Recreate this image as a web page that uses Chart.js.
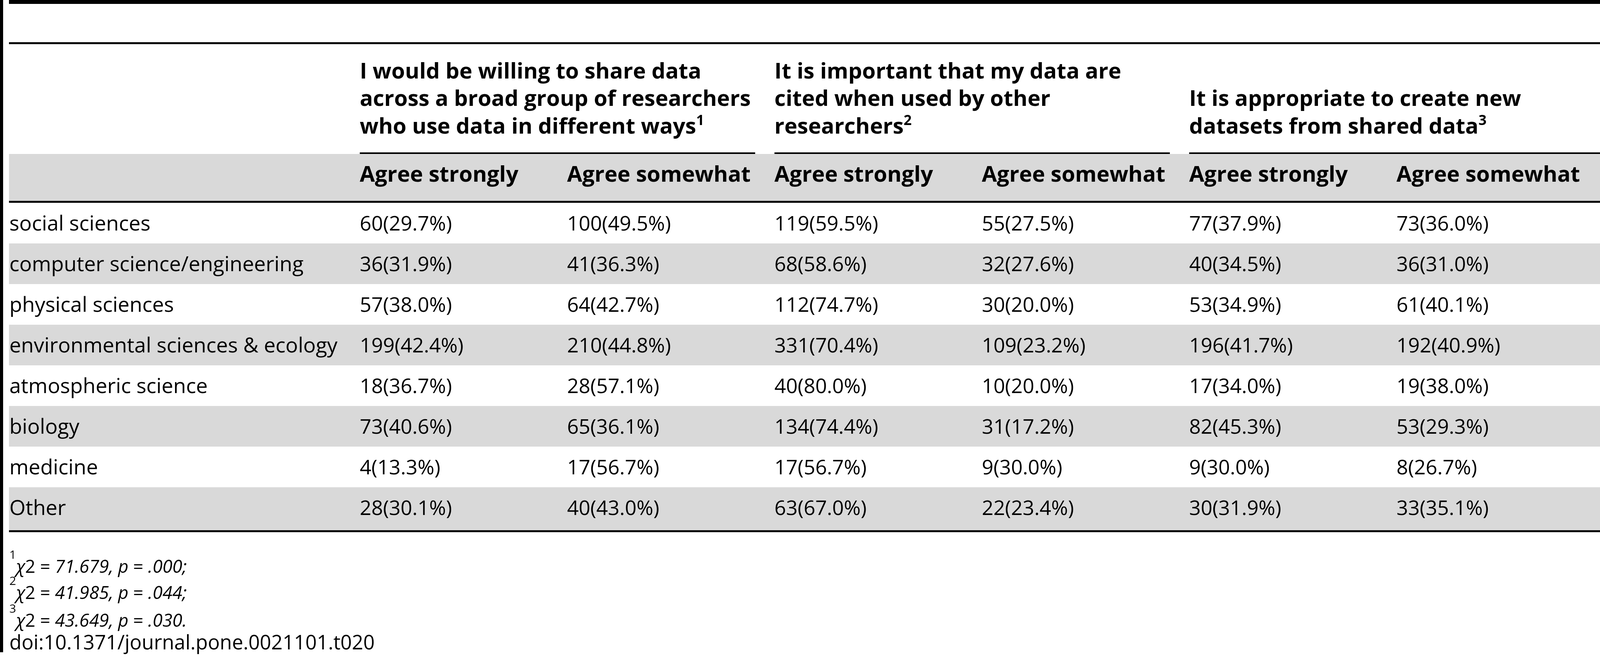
<!DOCTYPE html>
<html>
<head>
<meta charset="utf-8">
<script src="https://cdn.jsdelivr.net/npm/chart.js@4/dist/chart.umd.min.js"></script>
<style>
html,body{margin:0;padding:0;background:#fff;}
#wrap{width:4103px;height:1684px;position:relative;}
</style>
</head>
<body>
<div id="wrap"><canvas id="c"></canvas></div>
<script>
// ---------------- data ----------------
const rowLabels = ['social sciences','computer science/engineering','physical sciences','environmental sciences & ecology','atmospheric science','biology','medicine','Other'];
const groupTitles = [
  ['I would be willing to share data','across a broad group of researchers','who use data in different ways'],
  ['It is important that my data are','cited when used by other','researchers'],
  ['It is appropriate to create new','datasets from shared data']
];
const groupMarks = ['1','2','3'];
const responseLabels = ['Agree strongly','Agree somewhat'];

const shareStrongN = [60,36,57,199,18,73,4,28];
const shareStrongPct = [29.7,31.9,38.0,42.4,36.7,40.6,13.3,30.1];
const shareSomewhatN = [100,41,64,210,28,65,17,40];
const shareSomewhatPct = [49.5,36.3,42.7,44.8,57.1,36.1,56.7,43.0];
const citedStrongN = [119,68,112,331,40,134,17,63];
const citedStrongPct = [59.5,58.6,74.7,70.4,80.0,74.4,56.7,67.0];
const citedSomewhatN = [55,32,30,109,10,31,9,22];
const citedSomewhatPct = [27.5,27.6,20.0,23.2,20.0,17.2,30.0,23.4];
const newStrongN = [77,40,53,196,17,82,9,30];
const newStrongPct = [37.9,34.5,34.9,41.7,34.0,45.3,30.0,31.9];
const newSomewhatN = [73,36,61,192,19,53,8,33];
const newSomewhatPct = [36.0,31.0,40.1,40.9,38.0,29.3,26.7,35.1];

const chiSquare = ['71.679','41.985','43.649'];
const pValues = ['.000','.044','.030'];
const footEnds = [';',';','.'];
const doiText = 'doi:10.1371/journal.pone.0021101.t020';

// ---------------- layout / style (in scale units) ----------------
const L = {
  xMin: -0.7351, xMax: 6.9947,
  yMin: -5.4904, yMax: 10.7019,
  ruleStartX: -0.6918, labelX: -0.690, groupGap: 0.093,
  topRuleY: -5.442, topRuleW: 10,
  secondRuleY: -4.428, ruleW: 5,
  headBase: [-3.558, -2.889, -2.202],
  groupRuleY: -1.721, groupRuleW: 4,
  subBandTop: -1.702, subBandBottom: -0.548, subBase: -1.019,
  subRuleY: -0.524,
  bottomRuleY: 7.582,
  footBase: [8.606, 9.250, 9.935, 10.490],
  barEndY: 10.56, leftBarW: 8
};
const FAM = '"Open Sans", "Noto Sans", sans-serif';
const S = {
  gray: '#d9d9d9', ink: '#000',
  bold: 'bold 56px ' + FAM, supBold: 'bold 36px ' + FAM,
  reg: '52px ' + FAM, regSize: 52, label: '53.3px ' + FAM,
  foot: '46px ' + FAM, footIt: 'italic 46px ' + FAM, footSup: '30px ' + FAM,
  doi: '51px ' + FAM
};

const columns = [
  [shareStrongN, shareStrongPct], [shareSomewhatN, shareSomewhatPct],
  [citedStrongN, citedStrongPct], [citedSomewhatN, citedSomewhatPct],
  [newStrongN, newStrongPct], [newSomewhatN, newSomewhatPct]
];

const datasets = [{
  label: 'rows',
  data: rowLabels.map((t, i) => ({x: L.labelX, y: i})),
  texts: rowLabels,
  textFont: S.label
}].concat(columns.map((c, ci) => ({
  label: 'col' + (ci + 1),
  data: c[0].map((n, i) => ({x: ci + 1, y: i})),
  texts: c[0].map((n, i) => n + '(' + c[1][i].toFixed(1) + '%)'),
  textFont: S.reg
})));
datasets.forEach(d => { d.pointRadius = 0; d.pointHoverRadius = 0; d.showLine = false; });

function runs(ctx, x, y, parts) {
  let cx = x;
  parts.forEach(p => {
    ctx.font = p.f;
    ctx.fillText(p.t, cx, y - (p.dy || 0));
    cx += ctx.measureText(p.t).width;
  });
}

const tablePlugin = {
  id: 'table',
  beforeDatasetsDraw(chart) {
    const {ctx, chartArea: a} = chart;
    const xs = chart.scales.x, ys = chart.scales.y;
    const px = v => xs.getPixelForValue(v), py = v => ys.getPixelForValue(v);
    ctx.save();
    ctx.fillStyle = '#fff';
    ctx.fillRect(a.left, a.top, a.right - a.left, a.bottom - a.top);
    const x0 = px(L.ruleStartX), x1 = a.right;
    // shaded bands
    ctx.fillStyle = S.gray;
    ctx.fillRect(x0, py(L.subBandTop), x1 - x0, py(L.subBandBottom) - py(L.subBandTop));
    rowLabels.forEach((r, i) => {
      if (i % 2 === 1) {
        const t = py(i - 0.5);
        const b = i === rowLabels.length - 1 ? py(L.bottomRuleY) : py(i + 0.5);
        ctx.fillRect(x0, t, x1 - x0, b - t);
      }
    });
    // rules
    ctx.fillStyle = S.ink;
    const hr = (xa, xb, yv, w) => ctx.fillRect(xa, Math.round(py(yv) - w / 2), xb - xa, w);
    hr(x0, x1, L.topRuleY, L.topRuleW);
    hr(x0, x1, L.secondRuleY, L.ruleW);
    hr(x0, x1, L.subRuleY, L.ruleW);
    hr(x0, x1, L.bottomRuleY, L.ruleW);
    groupTitles.forEach((g, gi) => {
      const xa = px(gi * 2 + 1);
      const xb = gi < groupTitles.length - 1 ? px(gi * 2 + 3 - L.groupGap) : x1;
      hr(xa, xb, L.groupRuleY, L.groupRuleW);
    });
    ctx.fillRect(a.left, a.top, L.leftBarW, py(L.barEndY) - a.top);
    ctx.restore();
  },
  afterDatasetsDraw(chart) {
    const {ctx} = chart;
    const xs = chart.scales.x, ys = chart.scales.y;
    const px = v => xs.getPixelForValue(v), py = v => ys.getPixelForValue(v);
    ctx.save();
    ctx.fillStyle = S.ink;
    ctx.textAlign = 'left';
    ctx.textBaseline = 'alphabetic';
    // body cells
    chart.data.datasets.forEach((ds, di) => {
      const meta = chart.getDatasetMeta(di);
      ctx.font = ds.textFont;
      meta.data.forEach((el, i) => {
        ctx.fillText(ds.texts[i], el.x, el.y + S.regSize * 0.36);
      });
    });
    // group headers (bottom aligned)
    groupTitles.forEach((lines, gi) => {
      const xl = px(gi * 2 + 1);
      const off = L.headBase.length - lines.length;
      lines.forEach((t, li) => {
        const parts = [{t: t, f: S.bold}];
        if (li === lines.length - 1) parts.push({t: groupMarks[gi], f: S.supBold, dy: 22});
        runs(ctx, xl, py(L.headBase[off + li]), parts);
      });
      responseLabels.forEach((r, ri) => {
        ctx.font = S.bold;
        ctx.fillText(r, px(gi * 2 + 1 + ri), py(L.subBase));
      });
    });
    // footnotes
    const fx = px(L.labelX);
    chiSquare.forEach((c, i) => {
      runs(ctx, fx, py(L.footBase[i]), [
        {t: groupMarks[i], f: S.footSup, dy: 36},
        {t: '\u03C7', f: S.footIt},
        {t: '2 = ', f: S.foot},
        {t: c + ', ', f: S.footIt},
        {t: 'p', f: S.footIt},
        {t: ' = ', f: S.foot},
        {t: pValues[i] + footEnds[i], f: S.footIt}
      ]);
    });
    ctx.font = S.doi;
    ctx.fillText(doiText, fx, py(L.footBase[3]));
    ctx.restore();
  }
};

new Chart(document.getElementById('c'), {
  type: 'scatter',
  data: {datasets: datasets},
  options: {
    responsive: true,
    maintainAspectRatio: false,
    devicePixelRatio: 1,
    animation: false,
    events: [],
    layout: {padding: 0},
    plugins: {legend: {display: false}, tooltip: {enabled: false}, title: {display: false}},
    scales: {
      x: {type: 'linear', display: false, bounds: 'data', min: L.xMin, max: L.xMax},
      y: {type: 'linear', display: false, bounds: 'data', reverse: true, min: L.yMin, max: L.yMax}
    }
  },
  plugins: [tablePlugin]
});
</script>
</body>
</html>
